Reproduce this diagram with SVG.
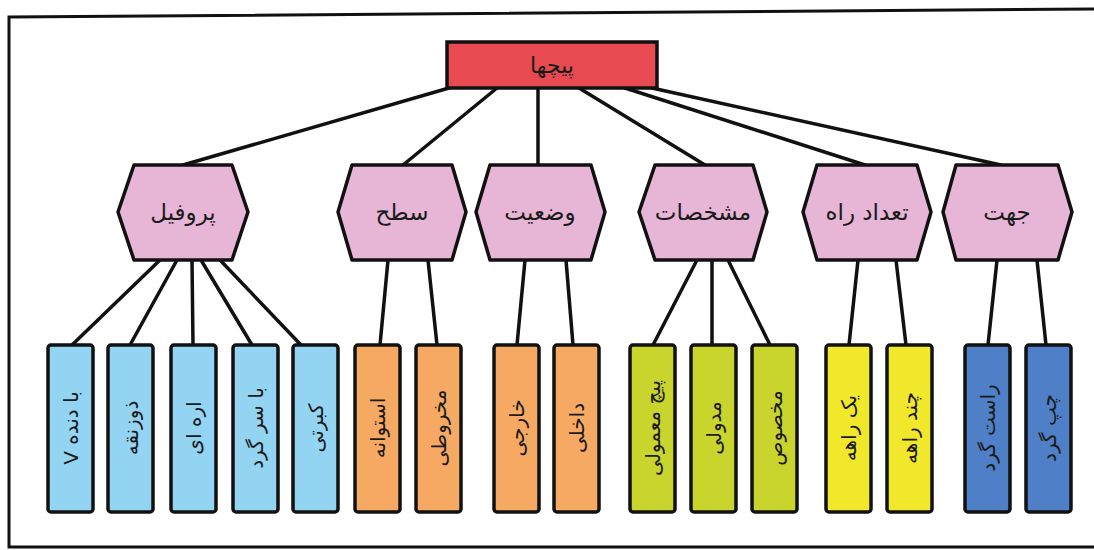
<svg xmlns="http://www.w3.org/2000/svg" width="1094" height="550" viewBox="0 0 1094 550">
<style>
.frame{fill:none;stroke:#111;stroke-width:3}
.edge{stroke:#111;stroke-width:3.5;fill:none;stroke-linecap:round}
.hex{fill:#e7b6d6;stroke:#111;stroke-width:3.5;stroke-linejoin:round}
.root{fill:#e84a52;stroke:#111;stroke-width:3.5}
.leaf{stroke:#111;stroke-width:3.5}
.c1{fill:#92d4f2}.c2{fill:#f6a962}.c3{fill:#c9d52c}.c4{fill:#f1e82c}.c5{fill:#4f7fc6}
text{font-family:"DejaVu Sans","Noto Sans",sans-serif;fill:#1a1a1a;direction:rtl;unicode-bidi:embed}
.ht{font-size:23px;text-anchor:middle}
.lt{font-size:20px;text-anchor:middle}
</style>
<rect width="1094" height="550" fill="#ffffff"/>
<g id="frame">
<polyline class="frame" points="1094,9 9,17 9,547 1094,547"/>
</g>
<g id="connectors">
<line class="edge" x1="449" y1="88" x2="183" y2="165"/>
<line class="edge" x1="497" y1="88" x2="403" y2="165"/>
<line class="edge" x1="538" y1="88" x2="538" y2="165"/>
<line class="edge" x1="579" y1="88" x2="705" y2="165"/>
<line class="edge" x1="625" y1="88" x2="865" y2="165"/>
<line class="edge" x1="652" y1="88" x2="1001" y2="165"/>
<line class="edge" x1="160" y1="260" x2="72" y2="345"/>
<line class="edge" x1="177" y1="260" x2="130" y2="345"/>
<line class="edge" x1="192" y1="260" x2="193" y2="345"/>
<line class="edge" x1="201" y1="260" x2="252" y2="345"/>
<line class="edge" x1="220" y1="260" x2="301" y2="345"/>
<line class="edge" x1="388" y1="260" x2="380" y2="345"/>
<line class="edge" x1="428" y1="260" x2="437" y2="345"/>
<line class="edge" x1="525" y1="260" x2="517" y2="345"/>
<line class="edge" x1="566" y1="260" x2="573" y2="345"/>
<line class="edge" x1="697" y1="260" x2="653" y2="345"/>
<line class="edge" x1="712" y1="260" x2="712" y2="345"/>
<line class="edge" x1="728" y1="260" x2="770" y2="345"/>
<line class="edge" x1="858" y1="260" x2="849" y2="345"/>
<line class="edge" x1="896" y1="260" x2="906" y2="345"/>
<line class="edge" x1="997" y1="260" x2="988" y2="345"/>
<line class="edge" x1="1037" y1="260" x2="1046" y2="345"/>
</g>
<g id="root">
<rect class="root" x="447" y="42" width="210" height="46"/>
<text class="ht" x="552" y="73" style="font-size:22px">پیچها</text>
</g>
<g id="hex-profile">
<polygon class="hex" points="118,212 134,165 232,165 248,212 232,260 134,260"/>
<text class="ht" x="183" y="220">پروفیل</text>
</g>
<g id="hex-sath">
<polygon class="hex" points="338,212 352,165 452,165 466,212 452,260 352,260"/>
<text class="ht" x="402" y="220">سطح</text>
</g>
<g id="hex-vaziat">
<polygon class="hex" points="476,212 490,165 591,165 605,212 591,260 490,260"/>
<text class="ht" x="540" y="220">وضعیت</text>
</g>
<g id="hex-moshakhasat">
<polygon class="hex" points="639,212 655,165 753,165 767,212 753,260 655,260"/>
<text class="ht" x="703" y="220">مشخصات</text>
</g>
<g id="hex-tedad">
<polygon class="hex" points="803,212 817,165 917,165 931,212 917,260 817,260"/>
<text class="ht" x="867" y="220">تعداد راه</text>
</g>
<g id="hex-jahat">
<polygon class="hex" points="943,212 956,165 1058,165 1072,212 1058,260 956,260"/>
<text class="ht" x="1007" y="220">جهت</text>
</g>
<g id="leaf-v">
<rect class="leaf c1" x="48" y="345" width="45" height="167" rx="3"/>
<text class="lt" transform="translate(70.5,428) rotate(-90)" y="7">با دنده V</text>
</g>
<g id="leaf-zoznaghe">
<rect class="leaf c1" x="108" y="345" width="45" height="167" rx="3"/>
<text class="lt" transform="translate(130.5,428) rotate(-90)" y="7">ذوزنقه</text>
</g>
<g id="leaf-areh">
<rect class="leaf c1" x="171" y="345" width="45" height="167" rx="3"/>
<text class="lt" transform="translate(193.5,428) rotate(-90)" y="7">اره ای</text>
</g>
<g id="leaf-sargerd">
<rect class="leaf c1" x="233" y="345" width="45" height="167" rx="3"/>
<text class="lt" transform="translate(255.5,428) rotate(-90)" y="7">با سر گرد</text>
</g>
<g id="leaf-kebriti">
<rect class="leaf c1" x="293" y="345" width="45" height="167" rx="3"/>
<text class="lt" transform="translate(315.5,428) rotate(-90)" y="7">کبرتی</text>
</g>
<g id="leaf-ostovane">
<rect class="leaf c2" x="355" y="345" width="45" height="167" rx="3"/>
<text class="lt" transform="translate(377.5,428) rotate(-90)" y="7">استوانه</text>
</g>
<g id="leaf-makhroti">
<rect class="leaf c2" x="416" y="345" width="45" height="167" rx="3"/>
<text class="lt" transform="translate(438.5,428) rotate(-90)" y="7">مخروطی</text>
</g>
<g id="leaf-khareji">
<rect class="leaf c2" x="494" y="345" width="45" height="167" rx="3"/>
<text class="lt" transform="translate(516.5,428) rotate(-90)" y="7">خارجی</text>
</g>
<g id="leaf-dakheli">
<rect class="leaf c2" x="554" y="345" width="45" height="167" rx="3"/>
<text class="lt" transform="translate(576.5,428) rotate(-90)" y="7">داخلی</text>
</g>
<g id="leaf-mamooli">
<rect class="leaf c3" x="630" y="345" width="45" height="167" rx="3"/>
<text class="lt" transform="translate(652.5,428) rotate(-90)" y="7">پیچ معمولی</text>
</g>
<g id="leaf-modooli">
<rect class="leaf c3" x="691" y="345" width="45" height="167" rx="3"/>
<text class="lt" transform="translate(713.5,428) rotate(-90)" y="7">مدولی</text>
</g>
<g id="leaf-makhsoos">
<rect class="leaf c3" x="752" y="345" width="45" height="167" rx="3"/>
<text class="lt" transform="translate(774.5,428) rotate(-90)" y="7">مخصوص</text>
</g>
<g id="leaf-yekraheh">
<rect class="leaf c4" x="826" y="345" width="45" height="167" rx="3"/>
<text class="lt" transform="translate(848.5,428) rotate(-90)" y="7">یک راهه</text>
</g>
<g id="leaf-chandraheh">
<rect class="leaf c4" x="887" y="345" width="45" height="167" rx="3"/>
<text class="lt" transform="translate(909.5,428) rotate(-90)" y="7">چند راهه</text>
</g>
<g id="leaf-rastgard">
<rect class="leaf c5" x="965" y="345" width="45" height="167" rx="3"/>
<text class="lt" transform="translate(987.5,428) rotate(-90)" y="7">راست گرد</text>
</g>
<g id="leaf-chapgard">
<rect class="leaf c5" x="1026" y="345" width="45" height="167" rx="3"/>
<text class="lt" transform="translate(1048.5,428) rotate(-90)" y="7">چپ گرد</text>
</g>
</svg>
